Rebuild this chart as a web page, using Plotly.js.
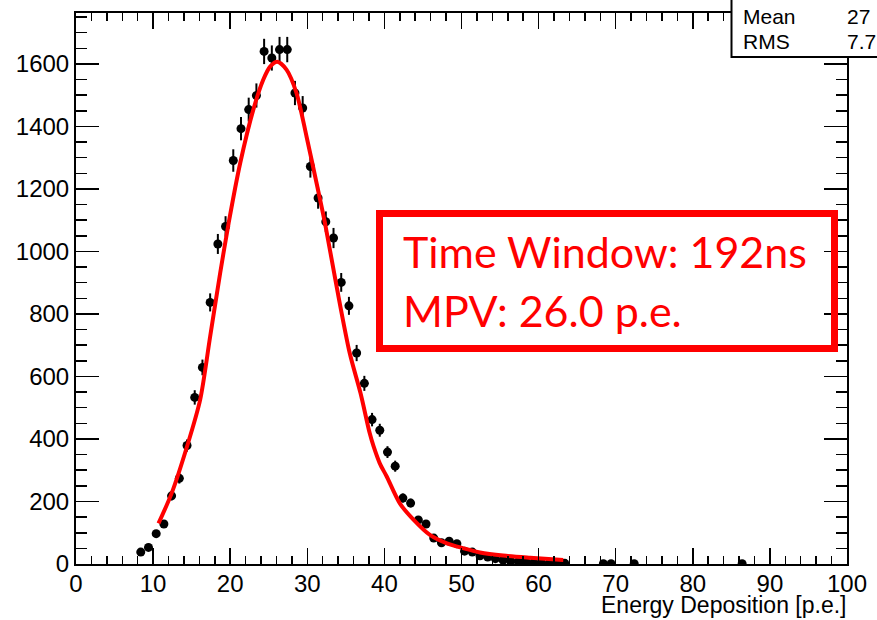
<!DOCTYPE html>
<html>
<head>
<meta charset="utf-8">
<script src="https://cdn.plot.ly/plotly-3.0.1.min.js"></script>
<style>
  html, body { margin: 0; padding: 0; background: #ffffff; }
  #chart { width: 877px; height: 620px; }
</style>
</head>
<body>
<div id="chart"></div>
<script>
// ---- data ----
const binCenters = [8.4, 9.4, 10.4, 11.4, 12.4, 13.4, 14.4, 15.4, 16.4, 17.4,
  18.4, 19.4, 20.4, 21.4, 22.4, 23.4, 24.4, 25.4, 26.4, 27.4,
  28.4, 29.4, 30.4, 31.4, 32.4, 33.4, 34.4, 35.4, 36.4, 37.4,
  38.4, 39.4, 40.4, 41.4, 42.4, 43.4, 44.4, 45.4, 46.4, 47.4,
  48.4, 49.4, 50.4, 51.4, 52.4, 53.4, 54.4, 55.4, 56.4, 57.4,
  58.4, 59.4, 60.4, 61.4, 62.4, 63.4, 68.4, 69.4, 72.4, 86.4];
const counts = [38, 53, 97, 128, 218, 274, 379, 533, 629, 837,
  1024, 1080, 1291, 1393, 1454, 1499, 1640, 1619, 1646, 1646,
  1507, 1459, 1272, 1171, 1095, 1043, 901, 826, 675, 578,
  462, 428, 358, 313, 211, 195, 141, 128, 83, 68,
  73, 65, 41, 38, 26, 22, 17, 12, 9, 8,
  6, 5, 3, 3, 2, 2, 1, 1, 1, 1];

const fitX = [10.7, 12.4, 14.4, 16.1, 17.4, 18.7, 19.8, 21.3, 23.0, 24.3,
  25.2, 26.1, 27.3, 28.6, 29.9, 31.2, 32.3, 33.8, 35.5, 36.9,
  38.1, 38.6, 39.4, 40.3, 42.0, 43.8, 45.9, 48.1, 50.3, 52.4,
  55.4, 58.9, 63.2];
const fitY = [130, 226, 376, 525, 728, 931, 1091, 1283, 1454, 1550,
  1592, 1607, 1582, 1507, 1368, 1219, 1090, 888, 675, 547,
  418, 376, 322, 280, 194, 141, 93, 66, 50, 37,
  27, 20, 13];

const xTickVals = [0, 10, 20, 30, 40, 50, 60, 70, 80, 90, 100];
const yTickVals = [0, 200, 400, 600, 800, 1000, 1200, 1400, 1600];

const xTitle = "Energy Deposition [p.e.]";
const boxLine1 = "Time Window: 192ns";
const boxLine2 = "MPV: 26.0 p.e.";
const statsLabels = ["Mean", "RMS"];
const statsValues = ["27", "7.7"];

// ---- layout helpers (pixel -> paper) ----
const L = 76, R = 847, T = 13, B = 564;
const px = p => (p - L) / (R - L);
const py = p => (B - p) / (B - T);

const tickFont = { family: "Liberation Sans, Arial, sans-serif", size: 24, color: "#000" };
const statFont = { family: "Liberation Sans, Arial, sans-serif", size: 21, color: "#000" };

const traces = [
  {
    type: "scatter", mode: "markers",
    x: binCenters, y: counts,
    marker: { color: "#000", size: 9, symbol: "circle" },
    error_y: { type: "sqrt", color: "#000", thickness: 2, width: 0 },
    error_x: { type: "constant", value: 0.5, color: "#000", thickness: 2, width: 0 },
    showlegend: false, hoverinfo: "x+y"
  },
  {
    type: "scatter", mode: "lines",
    x: fitX, y: fitY,
    line: { color: "#ff0000", width: 4, shape: "spline", smoothing: 0.8 },
    showlegend: false
  }
];

const layout = {
  width: 877, height: 620,
  margin: { l: L, r: 877 - R, t: T, b: 620 - B, pad: 0 },
  paper_bgcolor: "#fff", plot_bgcolor: "#fff",
  showlegend: false,
  xaxis: {
    range: [0, 100], tickvals: xTickVals, ticktext: xTickVals.map(String),
    ticks: "inside", ticklen: 16, tickwidth: 1.5, tickcolor: "#000",
    ticklabelstandoff: -3,
    showline: true, linecolor: "#000", linewidth: 2, mirror: "ticks",
    showgrid: false, zeroline: false,
    tickfont: tickFont,
    minor: { dtick: 2, tick0: 0, ticks: "inside", ticklen: 8, tickwidth: 1.5, tickcolor: "#000", showgrid: false }
  },
  yaxis: {
    range: [0, 1763], tickvals: yTickVals, ticktext: yTickVals.map(String),
    ticks: "inside", ticklen: 23, tickwidth: 1.5, tickcolor: "#000",
    showline: true, linecolor: "#000", linewidth: 2, mirror: "ticks",
    showgrid: false, zeroline: false,
    tickfont: tickFont,
    minor: { dtick: 50, tick0: 0, ticks: "inside", ticklen: 11, tickwidth: 1.5, tickcolor: "#000", showgrid: false }
  },
  shapes: [
    { type: "rect", xref: "paper", yref: "paper",
      x0: px(379.5), x1: px(834.5), y0: py(348.5), y1: py(213.5),
      line: { color: "#ff0000", width: 7 }, fillcolor: "rgba(255,255,255,0)" },
    { type: "rect", xref: "paper", yref: "paper",
      x0: px(731.5), x1: px(900), y0: py(57), y1: py(-10),
      line: { color: "#000", width: 2 }, fillcolor: "#fff" }
  ],
  annotations: [
    { xref: "paper", yref: "paper", x: px(401), y: py(251), xanchor: "left", yanchor: "middle",
      text: boxLine1, showarrow: false,
      font: { family: "Lato, Open Sans, sans-serif", size: 43, color: "#ff0000" } },
    { xref: "paper", yref: "paper", x: px(401), y: py(310), xanchor: "left", yanchor: "middle",
      text: boxLine2, showarrow: false,
      font: { family: "Lato, Open Sans, sans-serif", size: 43, color: "#ff0000" } },
    { xref: "paper", yref: "paper", x: px(848), y: py(620), xanchor: "right", yanchor: "bottom",
      text: xTitle, showarrow: false,
      font: { family: "Liberation Sans, Arial, sans-serif", size: 23, color: "#000" } },
    { xref: "paper", yref: "paper", x: px(741), y: py(16), xanchor: "left", yanchor: "middle",
      text: statsLabels[0], showarrow: false, font: statFont },
    { xref: "paper", yref: "paper", x: px(741), y: py(41), xanchor: "left", yanchor: "middle",
      text: statsLabels[1], showarrow: false, font: statFont },
    { xref: "paper", yref: "paper", x: px(845), y: py(16), xanchor: "left", yanchor: "middle",
      text: statsValues[0], showarrow: false, font: statFont },
    { xref: "paper", yref: "paper", x: px(845), y: py(41), xanchor: "left", yanchor: "middle",
      text: statsValues[1], showarrow: false, font: statFont }
  ]
};

Plotly.newPlot("chart", traces, layout, { staticPlot: true, displayModeBar: false });
</script>
</body>
</html>
